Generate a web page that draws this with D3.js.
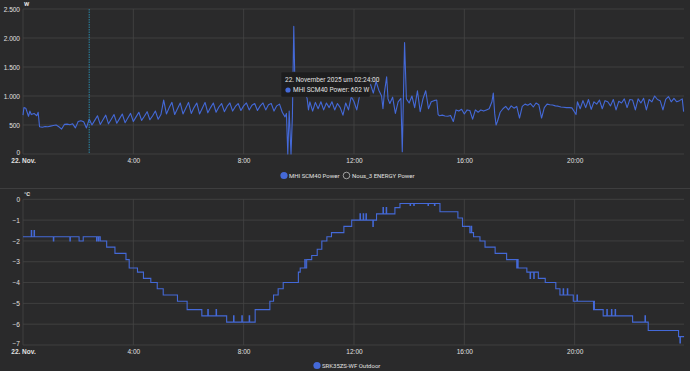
<!DOCTYPE html>
<html>
<head>
<meta charset="utf-8">
<script src="https://cdn.jsdelivr.net/npm/d3@7"></script>
<style>
  body { margin: 0; background: #2a2a2b; }
  svg { display: block; font-family: Roboto, "Noto Sans", sans-serif; }
  .tick text { fill: #e0e0e0; font-size: 6.5px; }
  .domain { display: none; }
</style>
</head>
<body>
<script>
// MHI SCM40 Power (W), 22 Nov 2025
var powerData = [
  ["00:00",670],["00:02",800],["00:06",790],["00:12",650],["00:15",740],["00:18",680],["00:24",700],["00:30",660],["00:33",720],["00:36",470],["00:42",460],["00:48",475],["00:54",470],
  ["01:00",480],["01:06",490],["01:12",500],["01:18",470],["01:24",430],["01:30",510],["01:36",515],["01:42",505],["01:48",520],["01:54",450],
  ["02:00",560],["02:06",575],["02:12",555],["02:18",450],["02:24",602],["02:30",500],["02:36",580],["02:42",660],["02:48",510],["02:54",590],
  ["03:00",670],["03:06",520],["03:12",600],["03:18",680],["03:24",530],["03:30",610],["03:36",690],["03:42",540],["03:48",620],["03:54",700],
  ["04:00",560],["04:06",640],["04:12",720],["04:18",580],["04:24",650],["04:30",730],["04:36",590],["04:42",660],["04:48",740],["04:54",600],
  ["05:00",680],["05:06",930],["05:12",690],["05:18",800],["05:24",890],["05:30",680],["05:36",780],["05:42",880],["05:48",690],["05:54",790],
  ["06:00",890],["06:06",700],["06:12",800],["06:18",880],["06:24",690],["06:30",790],["06:36",890],["06:42",710],["06:48",800],["06:54",880],
  ["07:00",720],["07:06",810],["07:12",870],["07:18",730],["07:24",820],["07:30",880],["07:36",740],["07:42",820],["07:48",870],["07:54",750],
  ["08:00",830],["08:06",880],["08:12",760],["08:18",840],["08:24",870],["08:30",750],["08:36",830],["08:42",880],["08:48",760],["08:54",850],
  ["09:00",870],["09:06",740],["09:12",830],["09:18",860],["09:24",720],["09:30",640],["09:33",700],["09:36",0],["09:39",740],["09:43",0],["09:46",650],["09:49",2200],["09:52",1000],["09:56",1120],
  ["10:00",1080],["10:06",1150],["10:12",1050],["10:18",960],["10:21",760],["10:24",900],["10:30",740],["10:36",890],["10:42",780],["10:48",900],["10:54",760],
  ["11:00",880],["11:06",800],["11:12",900],["11:18",760],["11:24",870],["11:30",800],["11:36",670],["11:42",880],["11:48",760],["11:54",990],
  ["12:00",900],["12:06",760],["12:12",1000],["12:18",1100],["12:24",1000],["12:30",1150],["12:36",1200],["12:42",1050],["12:48",1250],["12:54",1100],
  ["13:00",1000],["13:03",780],["13:06",1050],["13:11",1330],["13:14",950],["13:18",870],["13:24",980],["13:30",700],["13:36",900],["13:42",960],["13:45",40],["13:50",1920],["13:54",950],
  ["14:00",880],["14:06",1000],["14:12",800],["14:18",1090],["14:24",730],["14:30",950],["14:36",1090],["14:42",780],["14:48",900],["14:54",920],
  ["15:00",930],["15:03",680],["15:06",660],["15:12",670],["15:18",655],["15:24",650],["15:30",665],["15:36",560],["15:42",760],["15:48",740],["15:54",770],
  ["16:00",690],["16:06",760],["16:12",750],["16:18",600],["16:24",760],["16:30",720],["16:36",760],["16:42",740],["16:48",760],["16:54",780],
  ["17:00",900],["17:03",1050],["17:06",700],["17:09",500],["17:12",560],["17:18",720],["17:24",780],["17:30",820],["17:36",760],["17:42",830],["17:48",790],["17:54",820],
  ["18:00",620],["18:06",820],["18:12",860],["18:18",840],["18:24",870],["18:30",810],["18:36",880],["18:42",850],["18:48",620],["18:54",800],
  ["19:00",860],["19:06",850],["19:12",845],["19:18",830],["19:24",825],["19:30",810],["19:36",805],["19:42",800],["19:48",800],["19:54",795],
  ["20:00",720],["20:03",680],["20:06",900],["20:12",780],["20:18",920],["20:24",800],["20:30",940],["20:36",770],["20:42",900],["20:48",860],["20:54",930],
  ["21:00",780],["21:06",920],["21:12",900],["21:18",830],["21:24",940],["21:30",760],["21:36",910],["21:42",880],["21:48",950],["21:54",800],
  ["22:00",940],["22:06",930],["22:12",760],["22:18",950],["22:24",880],["22:30",960],["22:36",760],["22:42",940],["22:48",900],["22:54",1000],
  ["23:00",940],["23:06",920],["23:12",760],["23:18",940],["23:24",990],["23:30",900],["23:36",960],["23:42",900],["23:48",920],["23:54",950],["23:57",730]
];

// SRK35ZS-WF Outdoor temperature (°C), stepped
var tempData = [
  ["00:00",-1.8],["00:18",-1.5],["00:19",-1.8],["00:24",-1.5],["00:25",-1.8],
  ["01:06",-2.0],["01:07",-1.8],["01:42",-2.0],["01:43",-1.8],["02:02",-2.0],["02:11",-1.8],
  ["02:40",-2.0],["02:41",-1.8],["02:44",-2.0],["02:45",-1.8],["02:48",-2.0],
  ["03:02",-2.3],["03:20",-2.6],["03:44",-2.9],["03:51",-3.3],["04:09",-3.5],["04:22",-3.8],["04:38",-4.0],["04:52",-4.3],
  ["05:05",-4.6],["05:36",-4.9],["05:57",-5.3],["06:29",-5.6],["06:42",-5.3],["06:43",-5.6],["07:00",-5.3],["07:01",-5.6],
  ["07:23",-5.9],["07:38",-5.6],["07:39",-5.9],["07:56",-5.6],["07:57",-5.9],["08:12",-5.6],["08:13",-5.9],
  ["08:25",-5.3],["08:57",-4.9],["09:05",-4.6],["09:15",-4.3],["09:26",-4.0],["09:59",-3.5],["10:03",-3.3],
  ["10:13",-2.9],["10:14",-3.3],["10:17",-2.9],["10:28",-2.7],["10:40",-2.4],["10:50",-2.0],["11:01",-1.8],["11:11",-1.6],
  ["11:38",-1.3],["11:55",-1.0],["12:13",-0.7],["12:14",-1.0],["12:20",-0.7],["12:21",-1.0],["12:26",-0.7],["12:27",-1.0],
  ["12:41",-1.3],["12:42",-1.0],["12:49",-0.7],["13:03",-0.4],["13:04",-0.7],["13:10",-0.4],["13:11",-0.7],["13:29",-0.4],
  ["13:40",-0.2],["14:02",-0.3],["14:03",-0.2],["14:10",-0.3],["14:11",-0.2],["14:41",-0.3],["14:42",-0.2],["14:55",-0.3],["14:56",-0.2],
  ["15:07",-0.6],["15:46",-0.9],["15:56",-1.3],["16:12",-1.6],["16:15",-1.3],["16:16",-1.6],["16:20",-1.8],["16:34",-2.0],["16:45",-2.3],
  ["17:07",-2.6],["17:32",-2.9],["17:54",-3.3],["17:56",-2.9],["17:57",-3.3],["18:16",-3.5],["18:23",-3.8],["18:24",-3.5],["18:31",-3.8],["18:32",-3.5],
  ["18:41",-3.8],["18:56",-4.0],["19:19",-4.3],["19:28",-4.6],["19:35",-4.3],["19:36",-4.6],["19:44",-4.3],["19:45",-4.6],
  ["19:57",-4.9],["20:05",-4.6],["20:06",-4.9],["20:41",-5.3],["20:42",-4.9],["20:43",-5.3],
  ["21:02",-5.6],["21:10",-5.3],["21:11",-5.6],["21:20",-5.3],["21:21",-5.6],["21:28",-5.3],["21:29",-5.6],
  ["22:06",-5.9],["22:33",-5.6],["22:34",-5.9],["22:40",-6.3],["23:46",-6.6],["23:49",-6.9],["23:50",-6.6],["23:58",-6.6]
];

var powerTicks = [0, 500, 1000, 1500, 2000, 2500];
var tempTicks = [0, -1, -2, -3, -4, -5, -6, -7];
var hourTicks = [0, 4, 8, 12, 16, 20];
var powerLegend = ["MHI SCM40 Power", "Nous_3 ENERGY Power"];
var tempLegend = ["SRK35ZS-WF Outdoor"];
var tooltipTime = "02:24";

var W = 690, H = 371;
var lineColor = "#4469d8", gridColor = "#454545", textColor = "#e0e0e0";

var day = "2025-11-22";
var parseT = d3.timeParse("%Y-%m-%d %H:%M");
function toDate(t) { return parseT(day + " " + t); }
var start = toDate("00:00"), end = d3.timeDay.offset(start, 1);

var de = d3.formatLocale({ decimal: ",", thousands: ".", grouping: [3], currency: ["", " €"] });
var fmtW = de.format(",d");

var svg = d3.select("body").append("svg")
    .attr("width", W)
    .attr("height", H);

var x = d3.scaleTime().domain([start, end]).range([23, 685]);
var gridRight = 684;

function drawPanel(opts) {
    var g = svg.append("g");
    var y = opts.y;

    // horizontal grid
    g.selectAll("line.hg").data(opts.yTicks).enter().append("line")
        .attr("x1", x.range()[0]).attr("x2", gridRight)
        .attr("y1", function (d) { return y(d); }).attr("y2", function (d) { return y(d); })
        .attr("stroke", gridColor).attr("stroke-width", 0.8);
    // vertical grid
    g.selectAll("line.vg").data(hourTicks).enter().append("line")
        .attr("x1", function (h) { return x(d3.timeHour.offset(start, h)); })
        .attr("x2", function (h) { return x(d3.timeHour.offset(start, h)); })
        .attr("y1", y.range()[1]).attr("y2", y.range()[0])
        .attr("stroke", gridColor).attr("stroke-width", 0.8);

    // y axis
    var ya = g.append("g")
        .attr("transform", "translate(" + x.range()[0] + ",0)")
        .call(d3.axisLeft(y).tickValues(opts.yTicks).tickSize(0).tickPadding(3).tickFormat(opts.fmt));
    // lowest label sits a touch above the x labels
    ya.selectAll(".tick text").filter(function (d) { return d === y.domain()[0]; })
        .attr("dy", "0.1em");

    // x axis
    var xa = g.append("g")
        .attr("transform", "translate(0," + y.range()[0] + ")")
        .call(d3.axisBottom(x)
            .tickValues(hourTicks.map(function (h) { return d3.timeHour.offset(start, h); }))
            .tickSize(0).tickPadding(4)
            .tickFormat(function (d) { return d.getHours() === 0 ? "22. Nov." : d.getHours() + ":00"; }));
    xa.selectAll(".tick text").filter(function (d) { return d.getHours() === 0; })
        .style("font-weight", "bold");

    // unit
    g.append("text")
        .attr("x", x.range()[0] + 1).attr("y", y.range()[1] - 3.5)
        .attr("fill", textColor).style("font-size", "6px").style("font-weight", "bold")
        .text(opts.unit);

    return g;
}

// ---- power panel
var yP = d3.scaleLinear().domain([0, 2500]).range([154, 9]);
var gP = drawPanel({ y: yP, yTicks: powerTicks, fmt: fmtW, unit: "W" });

var powerLine = d3.line()
    .x(function (d) { return x(toDate(d[0])); })
    .y(function (d) { return yP(d[1]); });

gP.append("path").datum(powerData)
    .attr("d", powerLine)
    .attr("fill", "none").attr("stroke", lineColor).attr("stroke-width", 1.1)
    .attr("stroke-linejoin", "round");

// crosshair
var tipPoint = powerData.find(function (d) { return d[0] === tooltipTime; });
var cx = x(toDate(tooltipTime));
gP.append("line")
    .attr("x1", cx).attr("x2", cx).attr("y1", yP(2500)).attr("y2", yP(0))
    .attr("stroke", "#2b87a8").attr("stroke-width", 1).attr("stroke-dasharray", "1.5,1");

// tooltip
var tip = gP.append("g").attr("transform", "translate(281,72)");
tip.append("rect").attr("width", 89).attr("height", 25).attr("rx", 1)
    .attr("fill", "#1d1d1e").attr("stroke", "#333").attr("stroke-width", 0.5);
tip.append("text").attr("x", 4).attr("y", 9.5).attr("fill", textColor).style("font-size", "6.5px")
    .text("22. November 2025 um " + tooltipTime + ":00");
tip.append("circle").attr("cx", 7).attr("cy", 18).attr("r", 2.6).attr("fill", lineColor);
tip.append("text").attr("x", 12).attr("y", 20.3).attr("fill", textColor).style("font-size", "6.5px")
    .text(powerLegend[0] + ": " + fmtW(tipPoint[1]) + " W");

// power legend
var lgP = svg.append("g").attr("transform", "translate(0,175.5)");
lgP.append("circle").attr("cx", 284).attr("cy", 0).attr("r", 3.6).attr("fill", lineColor);
lgP.append("text").attr("x", 289).attr("y", 2.2).attr("fill", textColor).style("font-size", "6px").text(powerLegend[0]);
lgP.append("circle").attr("cx", 346.5).attr("cy", 0).attr("r", 3.3).attr("fill", "none").attr("stroke", "#bbb").attr("stroke-width", 0.8);
lgP.append("text").attr("x", 352).attr("y", 2.2).attr("fill", textColor).style("font-size", "6px").text(powerLegend[1]);

// separator
svg.append("line").attr("x1", 0).attr("x2", W).attr("y1", 188.5).attr("y2", 188.5)
    .attr("stroke", "#3e3e3f").attr("stroke-width", 1);

// ---- temperature panel
var yT = d3.scaleLinear().domain([-7, 0]).range([345, 199.3]);
var gT = drawPanel({ y: yT, yTicks: tempTicks, fmt: d3.format("d"), unit: "°C" });

var tempLine = d3.line()
    .curve(d3.curveStepAfter)
    .x(function (d) { return x(toDate(d[0])); })
    .y(function (d) { return yT(d[1]); });

gT.append("path").datum(tempData)
    .attr("d", tempLine)
    .attr("fill", "none").attr("stroke", lineColor).attr("stroke-width", 1.1);

var lgT = svg.append("g").attr("transform", "translate(0,365.5)");
lgT.append("circle").attr("cx", 317).attr("cy", 0).attr("r", 3.6).attr("fill", lineColor);
lgT.append("text").attr("x", 322).attr("y", 2.2).attr("fill", textColor).style("font-size", "6px").text(tempLegend[0]);
</script>
</body>
</html>
